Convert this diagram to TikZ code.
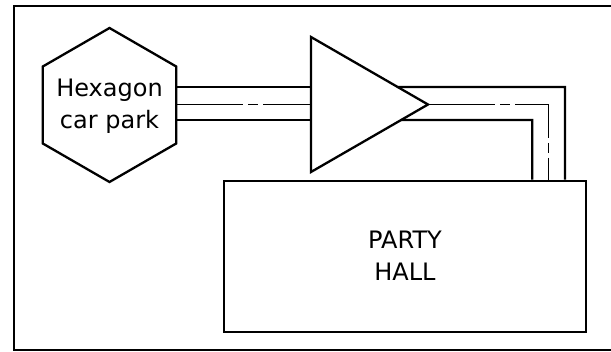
\documentclass[tikz,border=0pt]{standalone}
\usepackage{fontspec}
\setmainfont{DejaVu Sans}
\begin{document}
\begin{tikzpicture}[x=1pt,y=-1pt,
  thickline/.style={line width=2.3pt},
  framestyle/.style={line width=2pt},
  centreline/.style={line width=1pt, dash pattern=on 67pt off 5pt on 10pt off 5pt},
  lbl/.style={font=\fontsize{24}{32}\selectfont, align=center, inner sep=0pt},
  hallbox/.style={draw, thickline, minimum width=362pt, minimum height=151pt, inner sep=0pt}]
\useasboundingbox (0,0) rectangle (611,352);
% outer frame (right side runs off the picture)
\draw[framestyle] (14,6) rectangle (630,350);
% hexagon
\coordinate (hT) at (109.5,28);
\coordinate (hNE) at (176.2,66.5);
\coordinate (hSE) at (176.2,143.5);
\coordinate (hB) at (109.5,182);
\coordinate (hSW) at (42.8,143.5);
\coordinate (hNW) at (42.8,66.5);
\draw[thickline] (hT) -- (hNE) -- (hSE) -- (hB) -- (hSW) -- (hNW) -- cycle;
\node[lbl] (hex) at (109.5,106) {Hexagon\\car park};
% triangle
\coordinate (t1) at (311,37);
\coordinate (t2) at (311,172);
\coordinate (tip) at (428,104.5);
\draw[thickline] (t1) -- (tip) -- (t2) -- cycle;
% party hall
\node[hallbox, lbl, draw] (hall) at (405,256.2) {PARTY\\HALL};
% helper levels
\coordinate (yT) at (0,87);
\coordinate (yB) at (0,120);
\coordinate (xO) at (565,0);
\coordinate (xM) at (548.7,0);
\coordinate (xI) at (532.3,0);
\coordinate (rT) at (xO |- yT);
\coordinate (rB) at (xI |- yB);
% left connectors
\draw[thickline] (hNE |- yT) -- (t1 |- yT);
\draw[centreline] (hNE |- tip) -- (t1 |- tip);
\draw[thickline] (hNE |- yB) -- (t1 |- yB);
% right connectors
\draw[thickline] (intersection of t1--tip and yT--rT) -- (rT) -- (xO |- hall.north);
\draw[centreline] (tip) -- (xM |- tip) -- (xM |- hall.north);
\draw[thickline] (intersection of t2--tip and yB--rB) -- (rB) -- (xI |- hall.north);
\end{tikzpicture}
\end{document}
